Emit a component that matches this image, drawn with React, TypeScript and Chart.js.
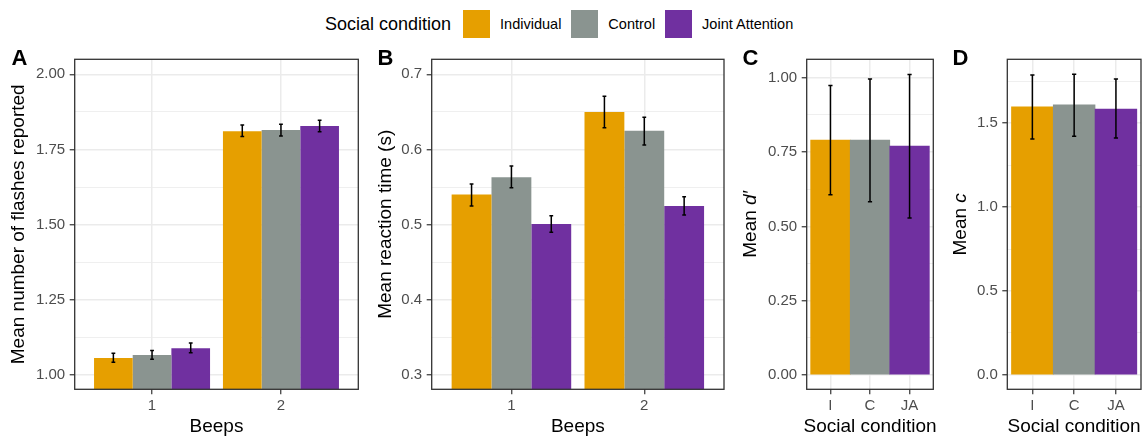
import React, { useEffect, useRef } from 'react';
import { Chart, registerables } from 'chart.js';

Chart.register(...registerables);

const FONT = "'Liberation Sans', Arial, Helvetica, sans-serif";

// ---------- data ----------
const CONDITIONS = ['Individual', 'Control', 'Joint Attention'];
const CONDITION_ABBR = ['I', 'C', 'JA'];
const CONDITION_COLORS = ['#E69F00', '#8A9490', '#7030A0'];
const BEEPS = [1, 2];

// Panel A: mean number of flashes reported (per beep 1, 2)
const FLASH_IND = [1.056, 1.811];
const FLASH_IND_LO = [1.042, 1.793];
const FLASH_IND_HI = [1.072, 1.831];
const FLASH_CTRL = [1.066, 1.815];
const FLASH_CTRL_LO = [1.052, 1.795];
const FLASH_CTRL_HI = [1.081, 1.834];
const FLASH_JA = [1.089, 1.828];
const FLASH_JA_LO = [1.074, 1.809];
const FLASH_JA_HI = [1.106, 1.847];

// Panel B: mean reaction time (s)
const RT_IND = [0.54, 0.65];
const RT_IND_LO = [0.525, 0.629];
const RT_IND_HI = [0.554, 0.671];
const RT_CTRL = [0.563, 0.625];
const RT_CTRL_LO = [0.549, 0.606];
const RT_CTRL_HI = [0.578, 0.643];
const RT_JA = [0.501, 0.525];
const RT_JA_LO = [0.49, 0.513];
const RT_JA_HI = [0.512, 0.537];

// Panel C: mean d'
const DPRIME = [0.79, 0.79, 0.77];
const DPRIME_LO = [0.606, 0.583, 0.528];
const DPRIME_HI = [0.974, 0.996, 1.011];

// Panel D: mean c
const CRIT = [1.597, 1.609, 1.585];
const CRIT_LO = [1.406, 1.422, 1.412];
const CRIT_HI = [1.788, 1.792, 1.764];

// Axis ticks and ranges
const FLASH_TICKS = [1.0, 1.25, 1.5, 1.75, 2.0];
const RT_TICKS = [0.3, 0.4, 0.5, 0.6, 0.7];
const DPRIME_TICKS = [0.0, 0.25, 0.5, 0.75, 1.0];
const CRIT_TICKS = [0.0, 0.5, 1.0, 1.5];
const FLASH_RANGE = [0.952, 2.05];
const RT_RANGE = [0.281, 0.72];
const DPRIME_RANGE = [-0.048, 1.062];
const CRIT_RANGE = [-0.086, 1.881];

// ---------- helpers ----------
const GRID = '#EBEBEB';
const INK = '#333333';
const TICK_FONT = 15;

function near(a: number, b: number) {
  return Math.abs(a - b) < 1e-6;
}

function isMajor(v: number, majors: number[]) {
  return majors.some((m) => near(m, v));
}

function withMinor(majors: number[], min: number, max: number) {
  const out: number[] = [];
  const step = majors[1] - majors[0];
  const first = majors[0] - step / 2;
  for (let v = first; v <= max + 1e-9; v += step / 2) {
    if (v >= min - 1e-9) out.push(Math.round(v * 1e6) / 1e6);
  }
  return out;
}

const errorBarPlugin = (capHalf: number) => ({
  id: 'errorBars',
  afterDatasetsDraw(chart: any) {
    const ctx = chart.ctx;
    const y = chart.scales.y;
    chart.data.datasets.forEach((ds: any, di: number) => {
      const meta = chart.getDatasetMeta(di);
      meta.data.forEach((bar: any, i: number) => {
        const lo = y.getPixelForValue(ds.errLow[i]);
        const hi = y.getPixelForValue(ds.errHigh[i]);
        ctx.save();
        ctx.strokeStyle = '#000';
        ctx.lineWidth = 1.5;
        ctx.beginPath();
        ctx.moveTo(bar.x, lo);
        ctx.lineTo(bar.x, hi);
        ctx.moveTo(bar.x - capHalf, lo);
        ctx.lineTo(bar.x + capHalf, lo);
        ctx.moveTo(bar.x - capHalf, hi);
        ctx.lineTo(bar.x + capHalf, hi);
        ctx.stroke();
        ctx.restore();
      });
    });
  },
});

const borderPlugin = {
  id: 'panelBorder',
  afterDraw(chart: any) {
    const { ctx, chartArea: a } = chart;
    ctx.save();
    ctx.strokeStyle = INK;
    ctx.lineWidth = 1.3;
    ctx.strokeRect(a.left, a.top, a.right - a.left, a.bottom - a.top);
    ctx.restore();
  },
};

type Seg = { text: string; italic?: boolean };

const titlesPlugin = (xTitle: string, yTitle: Seg[], yTitleX: number) => ({
  id: 'axisTitles',
  afterDraw(chart: any) {
    const { ctx, chartArea: a } = chart;
    ctx.save();
    ctx.fillStyle = '#000';
    ctx.textBaseline = 'middle';
    ctx.font = `19px ${FONT}`;
    ctx.textAlign = 'center';
    ctx.fillText(xTitle, (a.left + a.right) / 2, chart.height - 9.5);
    ctx.translate(yTitleX, (a.top + a.bottom) / 2);
    ctx.rotate(-Math.PI / 2);
    ctx.textAlign = 'left';
    const fonts = yTitle.map((s) => `${s.italic ? 'italic ' : ''}19px ${FONT}`);
    const widths = yTitle.map((s, i) => {
      ctx.font = fonts[i];
      return ctx.measureText(s.text).width;
    });
    let x = -widths.reduce((p, c) => p + c, 0) / 2;
    yTitle.forEach((s, i) => {
      ctx.font = fonts[i];
      ctx.fillText(s.text, x, 0);
      x += widths[i];
    });
    ctx.restore();
  },
});

type PanelSpec = {
  datasets: any[];
  xValues: number[];
  xLabels: string[];
  xRange: number[];
  yTicks: number[];
  yRange: number[];
  yDecimals: number;
  categoryPercentage: number;
  xTitle: string;
  yTitle: Seg[];
  yTitleX: number;
  yAxisWidth: number;
  padRight: number;
  capHalf: number;
};

const PLOT_TOP = 59.3;
const X_AXIS_H = 46.7;

function makeConfig(p: PanelSpec): any {
  return {
    type: 'bar',
    data: { datasets: p.datasets },
    options: {
      responsive: true,
      maintainAspectRatio: false,
      animation: false,
      layout: { padding: { top: PLOT_TOP, right: p.padRight, left: 0, bottom: 0 } },
      plugins: { legend: { display: false }, tooltip: { enabled: false } },
      datasets: {
        bar: { categoryPercentage: p.categoryPercentage, barPercentage: 1, borderWidth: 0 },
      },
      scales: {
        x: {
          type: 'linear',
          min: p.xRange[0],
          max: p.xRange[1],
          offset: false,
          bounds: 'data',
          afterBuildTicks: (s: any) => {
            s.ticks = p.xValues.map((v) => ({ value: v }));
          },
          afterFit: (s: any) => {
            s.height = X_AXIS_H;
          },
          ticks: {
            autoSkip: false,
            maxRotation: 0,
            padding: 3,
            color: '#4D4D4D',
            font: { size: TICK_FONT, family: FONT },
            callback: (v: number) => {
              const i = p.xValues.findIndex((x) => near(x, v));
              return i >= 0 ? p.xLabels[i] : '';
            },
          },
          grid: {
            offset: false,
            color: GRID,
            lineWidth: 1.5,
            tickColor: INK,
            tickLength: 5,
            tickWidth: 1.2,
            drawTicks: true,
          },
          border: { display: false },
        },
        y: {
          type: 'linear',
          min: p.yRange[0],
          max: p.yRange[1],
          beginAtZero: false,
          bounds: 'data',
          afterBuildTicks: (s: any) => {
            s.ticks = withMinor(p.yTicks, p.yRange[0], p.yRange[1]).map((v) => ({ value: v }));
          },
          afterFit: (s: any) => {
            s.width = p.yAxisWidth;
          },
          ticks: {
            autoSkip: false,
            padding: 4.5,
            color: '#4D4D4D',
            font: { size: TICK_FONT, family: FONT },
            callback: (v: number) => (isMajor(v, p.yTicks) ? v.toFixed(p.yDecimals) : ''),
          },
          grid: {
            color: GRID,
            lineWidth: (c: any) => (c.tick && isMajor(c.tick.value, p.yTicks) ? 1.5 : 0.8),
            tickColor: (c: any) =>
              c.tick && isMajor(c.tick.value, p.yTicks) ? INK : 'rgba(0,0,0,0)',
            tickLength: 5,
            tickWidth: 1.2,
            drawTicks: true,
          },
          border: { display: false },
        },
      },
    },
    plugins: [errorBarPlugin(p.capHalf), borderPlugin, titlesPlugin(p.xTitle, p.yTitle, p.yTitleX)],
  };
}

function beepDatasets(means: number[][], lows: number[][], highs: number[][]) {
  return CONDITIONS.map((c, ci) => ({
    label: c,
    data: BEEPS.map((b, bi) => ({ x: b, y: means[ci][bi] })),
    errLow: lows[ci],
    errHigh: highs[ci],
    backgroundColor: CONDITION_COLORS[ci],
  }));
}

function conditionDataset(means: number[], lows: number[], highs: number[]) {
  return [
    {
      label: 'Social condition',
      data: CONDITIONS.map((c, ci) => ({ x: ci + 1, y: means[ci] })),
      errLow: lows,
      errHigh: highs,
      backgroundColor: CONDITION_COLORS,
    },
  ];
}

const PANELS: { left: number; width: number; letter: string; letterX: number; spec: PanelSpec }[] = [
  {
    left: 0,
    width: 366,
    letter: 'A',
    letterX: 11.5,
    spec: {
      datasets: beepDatasets(
        [FLASH_IND, FLASH_CTRL, FLASH_JA],
        [FLASH_IND_LO, FLASH_CTRL_LO, FLASH_JA_LO],
        [FLASH_IND_HI, FLASH_CTRL_HI, FLASH_JA_HI]
      ),
      xValues: BEEPS,
      xLabels: BEEPS.map(String),
      xRange: [0.4, 2.6],
      yTicks: FLASH_TICKS,
      yRange: FLASH_RANGE,
      yDecimals: 2,
      categoryPercentage: 0.9,
      xTitle: 'Beeps',
      yTitle: [{ text: 'Mean number of flashes reported' }],
      yTitleX: 19.2,
      yAxisWidth: 74.7,
      padRight: 7.7,
      capHalf: 1.9,
    },
  },
  {
    left: 366,
    width: 366,
    letter: 'B',
    letterX: 377.5,
    spec: {
      datasets: beepDatasets(
        [RT_IND, RT_CTRL, RT_JA],
        [RT_IND_LO, RT_CTRL_LO, RT_JA_LO],
        [RT_IND_HI, RT_CTRL_HI, RT_JA_HI]
      ),
      xValues: BEEPS,
      xLabels: BEEPS.map(String),
      xRange: [0.4, 2.6],
      yTicks: RT_TICKS,
      yRange: RT_RANGE,
      yDecimals: 1,
      categoryPercentage: 0.9,
      xTitle: 'Beeps',
      yTitle: [{ text: 'Mean reaction time (s)' }],
      yTitleX: 19.5,
      yAxisWidth: 65.7,
      padRight: 8,
      capHalf: 1.9,
    },
  },
  {
    left: 732,
    width: 209,
    letter: 'C',
    letterX: 742.5,
    spec: {
      datasets: conditionDataset(DPRIME, DPRIME_LO, DPRIME_HI),
      xValues: [1, 2, 3],
      xLabels: CONDITION_ABBR,
      xRange: [0.4, 3.6],
      yTicks: DPRIME_TICKS,
      yRange: DPRIME_RANGE,
      yDecimals: 2,
      categoryPercentage: 1,
      xTitle: 'Social condition',
      yTitle: [{ text: 'Mean ' }, { text: 'd′', italic: true }],
      yTitleX: 19,
      yAxisWidth: 74.7,
      padRight: 7.7,
      capHalf: 2.1,
    },
  },
  {
    left: 941,
    width: 209,
    letter: 'D',
    letterX: 952.5,
    spec: {
      datasets: conditionDataset(CRIT, CRIT_LO, CRIT_HI),
      xValues: [1, 2, 3],
      xLabels: CONDITION_ABBR,
      xRange: [0.4, 3.6],
      yTicks: CRIT_TICKS,
      yRange: CRIT_RANGE,
      yDecimals: 1,
      categoryPercentage: 1,
      xTitle: 'Social condition',
      yTitle: [{ text: 'Mean ' }, { text: 'c', italic: true }],
      yTitleX: 19.5,
      yAxisWidth: 66.3,
      padRight: 9,
      capHalf: 2.1,
    },
  },
];

function Panel({ left, width, spec }: { left: number; width: number; spec: PanelSpec }) {
  const ref = useRef<HTMLCanvasElement | null>(null);
  useEffect(() => {
    if (!ref.current) return;
    const chart = new Chart(ref.current, makeConfig(spec));
    return () => chart.destroy();
  }, []);
  return (
    <div style={{ position: 'absolute', left, top: 0, width, height: 436 }}>
      <canvas ref={ref} />
    </div>
  );
}

function Legend() {
  const item = (ci: number) => (
    <React.Fragment key={ci}>
      <div
        style={{
          width: 27,
          height: 28,
          background: CONDITION_COLORS[ci],
          marginLeft: ci === 0 ? 11.5 : 9.5,
          marginRight: 10.5,
        }}
      />
      <span style={{ fontSize: 14.5, color: '#000' }}>{CONDITIONS[ci]}</span>
    </React.Fragment>
  );
  return (
    <div
      style={{
        position: 'absolute',
        left: 325,
        top: 10,
        height: 28,
        display: 'flex',
        alignItems: 'center',
        whiteSpace: 'nowrap',
      }}
    >
      <span style={{ fontSize: 18, color: '#000' }}>Social condition</span>
      {CONDITIONS.map((_, ci) => item(ci))}
    </div>
  );
}

export default function App() {
  return (
    <div
      style={{
        position: 'fixed',
        left: 0,
        top: 0,
        width: 1142,
        height: 436,
        overflow: 'hidden',
        background: '#fff',
        fontFamily: FONT,
      }}
    >
      <Legend />
      {PANELS.map((p) => (
        <React.Fragment key={p.letter}>
          <Panel left={p.left} width={p.width} spec={p.spec} />
          <div
            style={{
              position: 'absolute',
              left: p.letterX,
              top: 47.4,
              fontSize: 22,
              lineHeight: '22px',
              fontWeight: 'bold',
              color: '#000',
            }}
          >
            {p.letter}
          </div>
        </React.Fragment>
      ))}
    </div>
  );
}
